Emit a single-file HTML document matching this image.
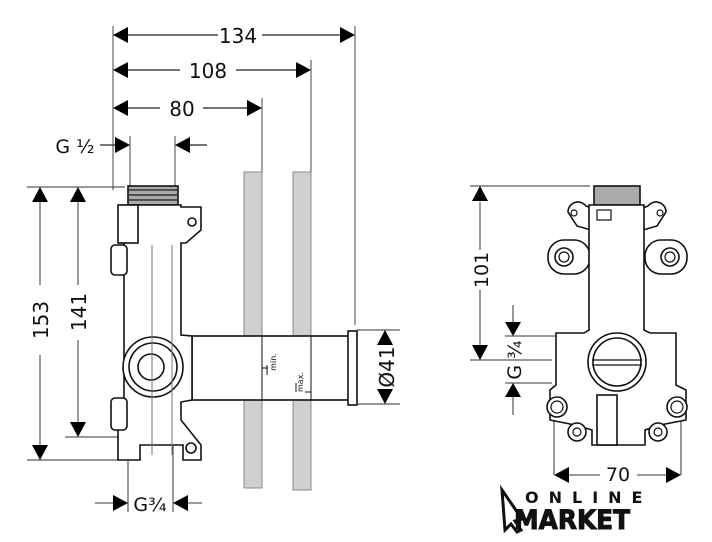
<!DOCTYPE html>
<html><head><meta charset="utf-8"><style>
html,body{margin:0;padding:0;background:#fff;width:712px;height:542px;overflow:hidden}
svg{display:block}
text{font-family:"DejaVu Sans","Liberation Sans",sans-serif;fill:#111}
</style></head><body>
<svg width="712" height="542" viewBox="0 0 712 542" xmlns="http://www.w3.org/2000/svg">
<g stroke="#444" stroke-width="1" fill="none">
<line x1="113" y1="26" x2="113" y2="190"/>
<line x1="355" y1="26" x2="355" y2="325"/>
<line x1="311" y1="60" x2="311" y2="172"/>
<line x1="262" y1="98" x2="262" y2="172"/>
<line x1="130" y1="136" x2="130" y2="186"/>
<line x1="175" y1="136" x2="175" y2="186"/>
</g>
<g stroke="#222" stroke-width="1.2" fill="none">
<line x1="128" y1="35" x2="218" y2="35"/><line x1="262" y1="35" x2="340" y2="35"/>
<line x1="128" y1="70" x2="180" y2="70"/><line x1="236" y1="70" x2="296" y2="70"/>
<line x1="128" y1="108" x2="160" y2="108"/><line x1="203" y1="108" x2="247" y2="108"/>
<line x1="100" y1="145" x2="115" y2="145"/><line x1="190" y1="145" x2="207" y2="145"/>
</g>
<g fill="#000">
<path d="M113,35 l15,-8 v16z"/><path d="M355,35 l-15,-8 v16z"/>
<path d="M113,70 l15,-8 v16z"/><path d="M311,70 l-15,-8 v16z"/>
<path d="M113,108 l15,-8 v16z"/><path d="M262,108 l-15,-8 v16z"/>
<path d="M130,145 l-15,-8 v16z"/><path d="M175,145 l15,-8 v16z"/>
</g>
<text x="238" y="43" font-size="20" text-anchor="middle">134</text>
<text x="208" y="78" font-size="20" text-anchor="middle">108</text>
<text x="182" y="116" font-size="20" text-anchor="middle">80</text>
<text x="75" y="153" font-size="19" text-anchor="middle">G ½</text>

<rect x="244" y="172" width="18" height="316" fill="#d0d0d0" stroke="#888"/>
<rect x="293" y="172" width="18" height="318" fill="#d0d0d0" stroke="#888"/>

<g stroke="#333" stroke-width="1" fill="none">
<line x1="27" y1="187" x2="125" y2="187"/>
<line x1="27" y1="460" x2="128" y2="460"/>
<line x1="65" y1="437" x2="135" y2="437"/>
<line x1="40" y1="202" x2="40" y2="285"/><line x1="40" y1="355" x2="40" y2="445"/>
<line x1="78" y1="202" x2="78" y2="285"/><line x1="78" y1="340" x2="78" y2="422"/>
</g>
<g fill="#000">
<path d="M40,187 l-8,15 h16z"/><path d="M40,460 l-8,-15 h16z"/>
<path d="M78,187 l-8,15 h16z"/><path d="M78,437 l-8,-15 h16z"/>
</g>
<text transform="translate(48,320) rotate(-90)" font-size="20" text-anchor="middle">153</text>
<text transform="translate(86,312) rotate(-90)" font-size="20" text-anchor="middle">141</text>

<g stroke="#111" stroke-width="1.6" fill="#fff">
<rect x="192" y="336" width="157" height="64"/>
<rect x="348" y="331" width="9" height="74"/>
</g>
<g stroke="#111" stroke-width="1">
<line x1="262" y1="336" x2="262" y2="400"/><line x1="311" y1="336" x2="311" y2="400"/>
<line x1="262" y1="368" x2="268" y2="368"/><line x1="267" y1="365" x2="267" y2="375"/>
<line x1="305" y1="392" x2="311" y2="392"/><line x1="296" y1="383" x2="296" y2="392"/>
</g>
<text transform="translate(276,362) rotate(-90)" font-size="8" text-anchor="middle">min.</text>
<text transform="translate(303,382) rotate(-90)" font-size="8" text-anchor="middle">max.</text>
<g stroke="#333" stroke-width="1"><line x1="357" y1="330" x2="400" y2="330"/><line x1="357" y1="404" x2="400" y2="404"/></g>
<g fill="#000"><path d="M385,330 l-8,15 h16z"/><path d="M385,404 l-8,-15 h16z"/></g>
<text transform="translate(394,367) rotate(-90)" font-size="20" text-anchor="middle">Ø41</text>

<g stroke="#111" stroke-width="1.6" fill="#fff">
<rect x="128" y="186" width="50" height="19" fill="#aaa"/>
<path d="M140,205 H181 V207 H201 V230 L186,243 H181 V335 L192,336 V400 L181,402 V420 L201,445 V460 H183 V445 H140 V460 H118 V410 L124,405 V390 V280 L124,243 L122,243 V205 Z"/>
<rect x="111" y="245" width="16" height="30" rx="4"/>
<rect x="111" y="398" width="16" height="32" rx="4"/>
<rect x="118" y="205" width="20" height="38"/>
<circle cx="153" cy="367" r="30"/>
<circle cx="153" cy="367" r="24"/>
<circle cx="151" cy="367" r="13"/>
<circle cx="192" cy="222" r="4"/>
<circle cx="191" cy="448" r="5"/>
</g>
<g stroke="#333" stroke-width="1.5" fill="none">
<line x1="128" y1="190" x2="178" y2="190"/><line x1="128" y1="195" x2="178" y2="195"/><line x1="128" y1="200" x2="178" y2="200"/>
<line x1="594" y1="190" x2="640" y2="190"/><line x1="594" y1="195" x2="640" y2="195"/><line x1="594" y1="200" x2="640" y2="200"/>
</g>
<g stroke="#777" stroke-width="1" fill="none">
<line x1="152" y1="245" x2="152" y2="455"/><line x1="172" y1="245" x2="172" y2="455"/>
</g>
<g stroke="#333" stroke-width="1"><line x1="128" y1="460" x2="128" y2="512"/><line x1="173" y1="445" x2="173" y2="512"/>
<line x1="95" y1="503" x2="113" y2="503"/><line x1="188" y1="503" x2="202" y2="503"/></g>
<g fill="#000"><path d="M128,503 l-15,-8 v16z"/><path d="M173,503 l15,-8 v16z"/></g>
<text x="150" y="511" font-size="19" text-anchor="middle">G¾</text>

<g stroke="#333" stroke-width="1" fill="none">
<line x1="470" y1="186" x2="590" y2="186"/>
<line x1="470" y1="360" x2="552" y2="360"/>
<line x1="505" y1="336" x2="555" y2="336"/>
<line x1="505" y1="383" x2="552" y2="383"/>
<line x1="480" y1="202" x2="480" y2="250"/><line x1="480" y1="290" x2="480" y2="345"/>
<line x1="513" y1="305" x2="513" y2="322"/><line x1="513" y1="397" x2="513" y2="415"/>
<line x1="554" y1="400" x2="554" y2="475"/><line x1="681" y1="400" x2="681" y2="475"/>
<line x1="568" y1="475" x2="600" y2="475"/><line x1="637" y1="475" x2="667" y2="475"/>
</g>
<g fill="#000">
<path d="M480,186 l-8,15 h16z"/><path d="M480,360 l-8,-15 h16z"/>
<path d="M513,336 l-8,-14 h16z"/><path d="M513,383 l-8,14 h16z"/>
<path d="M554,475 l15,-8 v16z"/><path d="M681,475 l-15,-8 v16z"/>
</g>
<text transform="translate(488,270) rotate(-90)" font-size="19" text-anchor="middle">101</text>
<text transform="translate(521,360) rotate(-90)" font-size="19" text-anchor="middle">G ¾</text>
<text x="618" y="481" font-size="19" text-anchor="middle">70</text>

<g stroke="#111" stroke-width="1.6" fill="#fff">
<rect x="594" y="186" width="46" height="19" fill="#aaa"/>
<path d="M568,212 a10,10 0 0 1 18,-6 L591,208 V230 L577,226 Z"/>
<path d="M666,212 a10,10 0 0 0 -18,-6 L643,208 V230 L657,226 Z"/>
<rect x="548" y="240" width="42" height="34" rx="16"/>
<rect x="645" y="240" width="42" height="34" rx="16"/>
<path d="M589,205 H644 V330 L650,333 H676 V385 L686,390 V420 L660,425 L645,430 V445 H592 V430 L575,425 L550,420 V390 L556,385 V333 H584 L589,330 Z"/>
<circle cx="577" cy="432" r="9"/><circle cx="658" cy="432" r="9"/>
<circle cx="617" cy="362" r="29"/>
<circle cx="617" cy="362" r="24"/>
<circle cx="564" cy="257" r="9"/><circle cx="670" cy="257" r="9"/>
<circle cx="557" cy="407" r="10"/><circle cx="677" cy="407" r="10"/>
<rect x="597" y="395" width="20" height="50"/>
</g>
<g stroke="#111" stroke-width="1.2" fill="none">
<circle cx="564" cy="257" r="5"/><circle cx="670" cy="257" r="5"/>
<circle cx="557" cy="407" r="6"/><circle cx="677" cy="407" r="6"/>
<circle cx="577" cy="432" r="4"/><circle cx="658" cy="432" r="4"/>
<circle cx="574" cy="213" r="3"/><circle cx="660" cy="213" r="3"/>
<line x1="592" y1="360" x2="642" y2="360"/><line x1="592" y1="365" x2="642" y2="365"/>
<rect x="597" y="210" width="14" height="10"/>
</g>

<path d="M502,490 L522,519 L515,521 L521,530 L517,532 L511,524 L505,530 Z" fill="#fff" stroke="#111" stroke-width="3"/>
<text x="525" y="503" font-size="16" font-weight="bold" letter-spacing="10">ONLINE</text>
<text x="514" y="529" font-size="27" font-weight="bold" stroke="#111" stroke-width="1" textLength="116" lengthAdjust="spacingAndGlyphs">MARKET</text>
</svg>
</body></html>
